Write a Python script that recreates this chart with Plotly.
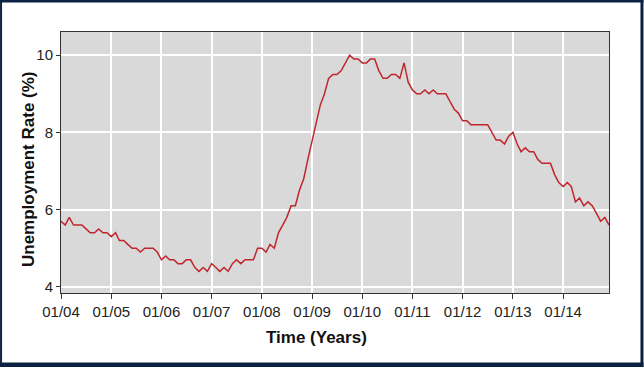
import plotly.graph_objects as go

years = list(range(2004, 2015))
rates = {
    2004: [5.7, 5.6, 5.8, 5.6, 5.6, 5.6, 5.5, 5.4, 5.4, 5.5, 5.4, 5.4],
    2005: [5.3, 5.4, 5.2, 5.2, 5.1, 5.0, 5.0, 4.9, 5.0, 5.0, 5.0, 4.9],
    2006: [4.7, 4.8, 4.7, 4.7, 4.6, 4.6, 4.7, 4.7, 4.5, 4.4, 4.5, 4.4],
    2007: [4.6, 4.5, 4.4, 4.5, 4.4, 4.6, 4.7, 4.6, 4.7, 4.7, 4.7, 5.0],
    2008: [5.0, 4.9, 5.1, 5.0, 5.4, 5.6, 5.8, 6.1, 6.1, 6.5, 6.8, 7.3],
    2009: [7.8, 8.3, 8.7, 9.0, 9.4, 9.5, 9.5, 9.6, 9.8, 10.0, 9.9, 9.9],
    2010: [9.8, 9.8, 9.9, 9.9, 9.6, 9.4, 9.4, 9.5, 9.5, 9.4, 9.8, 9.3],
    2011: [9.1, 9.0, 9.0, 9.1, 9.0, 9.1, 9.0, 9.0, 9.0, 8.8, 8.6, 8.5],
    2012: [8.3, 8.3, 8.2, 8.2, 8.2, 8.2, 8.2, 8.0, 7.8, 7.8, 7.7, 7.9],
    2013: [8.0, 7.7, 7.5, 7.6, 7.5, 7.5, 7.3, 7.2, 7.2, 7.2, 6.9, 6.7],
    2014: [6.6, 6.7, 6.6, 6.2, 6.3, 6.1, 6.2, 6.1, 5.9, 5.7, 5.8, 5.6],
}
dates = [f"{y}-{m:02d}-01" for y in years for m in range(1, 13)]
values = [v for y in years for v in rates[y]]

y_ticks = [4, 6, 8, 10]

W, H = 644, 367
L, R, T, B = 61, 609.5, 32, 293

fig = go.Figure()
fig.add_trace(go.Scatter(x=dates, y=values, mode="lines",
                         line=dict(color="#c0272d", width=1.5),
                         showlegend=False))

def px(x):
    return (x - L) / (R - L)

def py(y):
    return (B - y) / (B - T)

navy = "#0b2142"
shapes = []
for (x0, y0, x1, y1) in [(0, 0, 2, H), (0, 0, W, 2.5), (641, 0, W, H), (0, 362.5, W, H)]:
    shapes.append(dict(type="rect", xref="paper", yref="paper",
                       x0=px(x0), x1=px(x1), y0=py(y1), y1=py(y0),
                       fillcolor=navy, line=dict(width=0), layer="above"))

font = "Liberation Sans, Arial, sans-serif"
fig.update_layout(
    width=W, height=H,
    margin=dict(l=L, r=W - R, t=T, b=H - B, pad=0),
    paper_bgcolor="white", plot_bgcolor="#d9d9d9",
    font=dict(family=font, size=15, color="#222222"),
    shapes=shapes,
    xaxis=dict(range=["2004-01-01", "2014-12-01"], tickformat="%m/%y",
               dtick="M12", tick0="2004-01-01",
               showgrid=True, gridcolor="white", gridwidth=1.5,
               ticks="outside", ticklen=5, tickcolor="#333333",
               showline=True, linecolor="#333333", linewidth=1, mirror=True,
               zeroline=False, tickfont=dict(size=15, color="#222222")),
    yaxis=dict(range=[3.84, 10.6], tickvals=y_ticks,
               showgrid=True, gridcolor="white", gridwidth=1.5,
               ticks="outside", ticklen=4, tickcolor="#333333",
               showline=True, linecolor="#333333", linewidth=1, mirror=True,
               zeroline=False, tickfont=dict(size=15, color="#222222")),
    annotations=[
        dict(text="<b>Time (Years)</b>", xref="paper", yref="paper",
             x=px(317), y=py(337), xanchor="center", yanchor="middle",
             showarrow=False, font=dict(size=17, color="#111111")),
        dict(text="<b>Unemployment Rate (%)</b>", xref="paper", yref="paper",
             x=px(28), y=py(169), xanchor="center", yanchor="middle",
             showarrow=False, textangle=-90,
             font=dict(size=17, color="#111111")),
    ],
)

fig.write_html("out.html", config={"displayModeBar": False},
               post_script="document.body.style.margin='0';document.body.style.overflow='hidden';")
